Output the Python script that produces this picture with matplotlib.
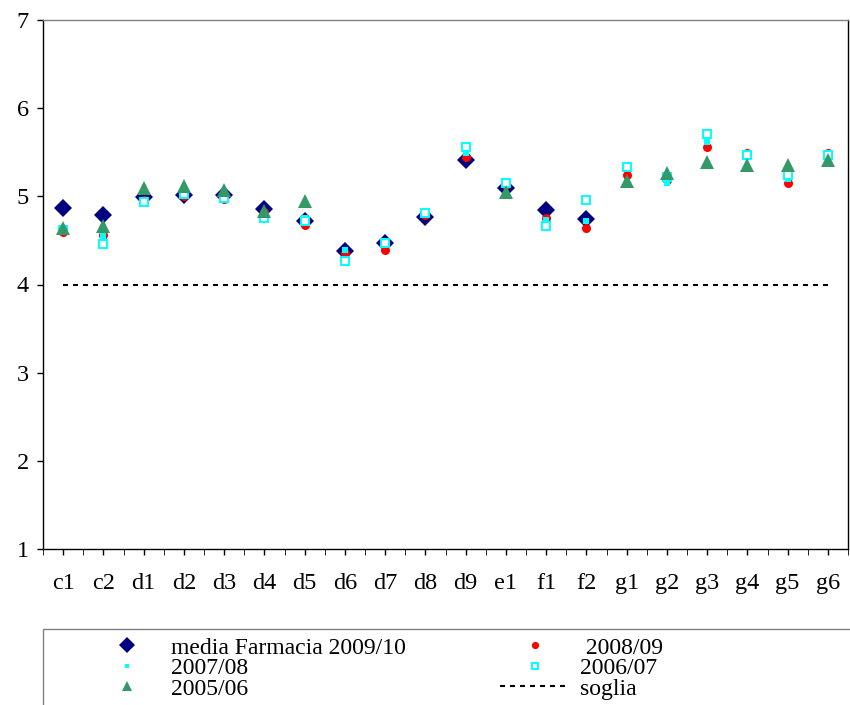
import matplotlib
matplotlib.use("Agg")
import matplotlib.pyplot as plt
from matplotlib.patches import Rectangle
import numpy as np

plt.rcParams['font.family'] = ['Liberation Serif', 'DejaVu Serif']

categories = ['c1', 'c2', 'd1', 'd2', 'd3', 'd4', 'd5', 'd6', 'd7', 'd8',
              'd9', 'e1', 'f1', 'f2', 'g1', 'g2', 'g3', 'g4', 'g5', 'g6']

nan = np.nan
media_2009 = [4.87, 4.79, 4.99, 5.01, 5.02, 4.86, 4.72, 4.38, 4.47, 4.77,
              5.41, 5.09, 4.85, 4.74, nan, nan, nan, nan, nan, nan]
val_2008 = [4.60, 4.56, 4.96, 5.00, 4.97, 4.82, 4.67, 4.36, 4.39, 4.79,
            5.45, 5.13, 4.75, 4.64, 5.24, 5.19, 5.56, 5.49, 5.15, 5.49]
val_2007 = [4.61, 4.55, 4.92, 5.02, 4.99, 4.76, 4.75, 4.39, 4.49, 4.83,
            5.49, 5.17, 4.73, 4.72, 5.31, 5.15, 5.62, 5.45, 5.20, 5.47]
val_2006 = [4.62, 4.46, 4.94, 5.03, 4.98, 4.75, 4.72, 4.27, 4.47, 4.81,
            5.56, 5.15, 4.66, 4.96, 5.33, 5.22, 5.71, 5.47, 5.24, 5.47]
val_2005 = [4.64, 4.66, 5.09, 5.12, 5.07, 4.83, 4.95, nan, nan, nan,
            nan, 5.05, nan, nan, 5.17, 5.27, 5.39, 5.36, 5.36, 5.41]
soglia = [4.0] * len(categories)

x = np.arange(len(categories))

fig = plt.figure(figsize=(8.5, 7.05), dpi=100)
ax = fig.add_axes([43 / 850, 1 - 549 / 705, 805 / 850, 529 / 705])

h_s, = ax.plot(x, soglia, color='black', lw=1.5, dashes=(2.4, 2.4))
h_media, = ax.plot(x, media_2009, 'D', color='#000080', ms=9.6, mew=0)
h_08, = ax.plot(x, val_2008, 'o', color='#ff0000', ms=6.5, mew=0)
h_07, = ax.plot(x, val_2007, 's', color='#00ffff', ms=4.3, mew=0)
h_06, = ax.plot(x, val_2006, 's', mfc='white', mec='#00ffff', ms=6.0, mew=1.4)
h_05, = ax.plot(x, val_2005, '^', color='#339966', ms=9.4, mew=0)

ax.set_xlim(-0.5, len(categories) - 0.5)
ax.set_ylim(1, 7)
ax.set_yticks(range(1, 8))
ax.set_xticks(x)
ax.set_xticklabels(categories)
ax.set_xticks(np.arange(-0.5, len(categories)), minor=True)
ax.tick_params(axis='both', direction='out', length=4, width=1, labelsize=17.5)
ax.tick_params(axis='x', which='both', length=4, pad=13)
ax.tick_params(axis='y', pad=6)

ax.spines['top'].set_color('#808080')
ax.spines['right'].set_color('black')
for s in ax.spines.values():
    s.set_linewidth(1)

# legend frame runs off the figure edge like the original
fig.patches.append(Rectangle((43 / 850, -0.05), 0.99, (705 - 629) / 705 + 0.05,
                             transform=fig.transFigure, fill=False,
                             edgecolor='#808080', lw=1))

fig.legend([h_media, h_07, h_05, h_08, h_06, h_s],
           ['media Farmacia 2009/10', '2007/08', '2005/06', ' 2008/09', '2006/07', 'soglia'],
           ncol=2, loc='upper left', bbox_to_anchor=(92 / 850, 1 - 637 / 705),
           frameon=False, fontsize=17, borderpad=0, handlelength=2.95,
           handletextpad=0.4, columnspacing=4.0, labelspacing=-0.04,
           borderaxespad=0, markerscale=0.8)

fig.savefig('out.png', dpi=100)
